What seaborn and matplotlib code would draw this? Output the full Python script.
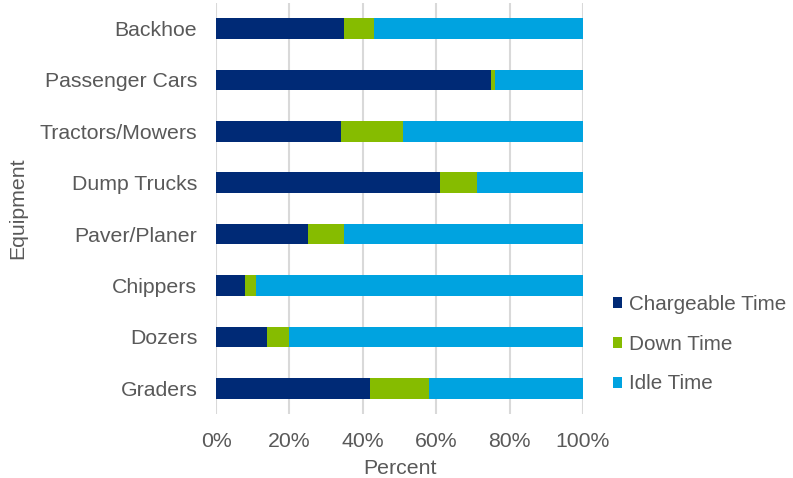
import matplotlib
matplotlib.use("Agg")
import matplotlib.pyplot as plt
import seaborn as sns
import pandas as pd
import numpy as np
from matplotlib.patches import Patch
from matplotlib.ticker import FuncFormatter

equipment = ["Backhoe", "Passenger Cars", "Tractors/Mowers", "Dump Trucks",
             "Paver/Planer", "Chippers", "Dozers", "Graders"]
chargeable = [35, 75, 34, 61, 25, 8, 14, 42]
down = [8, 1, 17, 10, 10, 3, 6, 16]
idle = [57, 24, 49, 29, 65, 89, 80, 42]

series_names = ["Chargeable Time", "Down Time", "Idle Time"]
colors = ["#002A76", "#86BC00", "#00A3E0"]

df = pd.DataFrame({"Equipment": equipment, "Chargeable": chargeable,
                   "Down": down, "Idle": idle})
df["c1"] = df["Chargeable"]
df["c2"] = df["Chargeable"] + df["Down"]
df["c3"] = df["Chargeable"] + df["Down"] + df["Idle"]

sns.set_theme(style="white")
plt.rcParams["font.family"] = ["Liberation Sans", "DejaVu Sans"]

FS = 15.3
TXT = "#595959"

fig = plt.figure(figsize=(7.93, 4.78), dpi=100)
ax = fig.add_axes([0.2724, 0.134, 0.4628, 0.86])

# stacked bars: draw cumulative totals from the back to the front
for col, color in zip(["c3", "c2", "c1"], colors[::-1]):
    sns.barplot(data=df, x=col, y="Equipment", color=color, width=0.4,
                saturation=1, orient="h", ax=ax, zorder=3, linewidth=0)

ax.set_xlim(0, 100)
ax.set_ylim(7.5, -0.5)
ax.set_xticks([0, 20, 40, 60, 80, 100])
ax.xaxis.set_major_formatter(FuncFormatter(lambda v, p: f"{v:.0f}%"))
ax.grid(axis="x", color="#D9D9D9", linewidth=1.5, zorder=0)
ax.grid(axis="y", visible=False)
for s in ax.spines.values():
    s.set_visible(False)

ax.tick_params(axis="x", length=0, labelsize=FS, colors=TXT, pad=13)
ax.tick_params(axis="y", length=0, labelsize=FS, colors=TXT, pad=13.5)
ax.set_xlabel("Percent", fontsize=FS, color=TXT, labelpad=6)
ax.set_ylabel("Equipment", fontsize=FS, color=TXT, labelpad=9)

handles = [Patch(facecolor=c, edgecolor="none") for c in colors]
leg = fig.legend(handles, series_names, loc="upper left",
                 bbox_to_anchor=(0.762, 0.40), frameon=False,
                 fontsize=14.9, handlelength=0.45, handleheight=0.45,
                 handletextpad=0.35, labelspacing=1.0, borderaxespad=0)
for t in leg.get_texts():
    t.set_color(TXT)

fig.savefig("out.png", dpi=100)
